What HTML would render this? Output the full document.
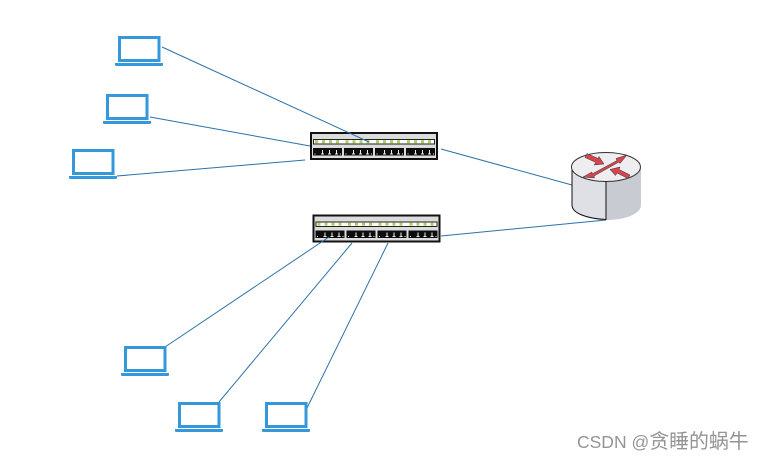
<!DOCTYPE html>
<html><head><meta charset="utf-8">
<style>
html,body{margin:0;padding:0;background:#fff;width:764px;height:461px;overflow:hidden}
svg{display:block}
text{font-family:"Liberation Sans","Noto Sans CJK SC",sans-serif}
</style></head><body>
<svg width="764" height="461" viewBox="0 0 764 461" xmlns="http://www.w3.org/2000/svg">
<defs>
<g id="lap">
<rect x="1.500" y="1.500" width="39.500" height="23" fill="#fff" stroke="#3498db" stroke-width="3"/>
<path d="M-3 27H45V29Q45 30 43 30H-1Q-3 30-3 29Z" fill="#3498db"/>
</g>
<g id="port"><rect x="0" y="0" width="29" height="7.500" fill="#0c0c0c"/>
<path d="M1.500 6h1M8 6h3M9.500 2v4M15 6h3M16.500 2v4M22 6h3M23.500 2v4M27 6h1" stroke="#eee" stroke-width="1" fill="none"/></g>
<g id="dots" fill="#a8d05a">
<rect x="0" y="-1.500" width="3" height="3"/><rect x="7" y="-1.500" width="3" height="3"/><rect x="14" y="-1.500" width="3" height="3"/><rect x="21" y="-1.500" width="3" height="3"/>
</g>
<g id="sw">
<rect x="1" y="1" width="126" height="26" fill="#dcdcdc" stroke="#111" stroke-width="2"/>
<rect x="3.500" y="7.500" width="121" height="4.500" fill="#fff" stroke="#222" stroke-width="1"/>
<use href="#dots" x="5" y="9.700"/><use href="#dots" x="35.500" y="9.700"/><use href="#dots" x="66" y="9.700"/><use href="#dots" x="97" y="9.700"/>
<use href="#port" x="3" y="16"/><use href="#port" x="34" y="16"/><use href="#port" x="65" y="16"/><use href="#port" x="96" y="16"/>
</g>
</defs>

<use href="#sw" x="310" y="132"/>
<use href="#sw" x="312.500" y="214.500"/>

<g stroke="#2d72a8" stroke-width="1" fill="none">
<path d="M162 47L369 142"/>
<path d="M150 117L310 146"/>
<path d="M117 176L305 160"/>
<path d="M441 149L572 185"/>
<path d="M441 236L606 220"/>
<path d="M165 347L329 237"/>
<path d="M219 402L352 243"/>
<path d="M307 408L388 243"/>
</g>

<use href="#lap" x="118" y="36"/>
<use href="#lap" x="106" y="94"/>
<use href="#lap" x="72" y="149"/>
<use href="#lap" x="124" y="346"/>
<use href="#lap" x="178" y="402"/>
<use href="#lap" x="265" y="402"/>

<path d="M572 167V205C572 214 588 220 606 220V167Z" fill="#dfe0e5"/>
<path d="M606 167V220C625 220 641 214 641 205V167Z" fill="#c9cbd3"/>
<path d="M572 167V205C572 213 586 218.500 606 219.500V186" fill="none" stroke="#111" stroke-width="1"/>
<ellipse cx="606" cy="167" rx="34.500" ry="14.500" fill="#eeeef1" stroke="#333" stroke-width="1"/>
<path d="M606 181V219.500" stroke="#111" stroke-width="1"/>
<g fill="#d9434e" stroke="#333" stroke-width=".5">
<path d="M585 157.500L587 153.500L598 158.500L599 156.500L604 164L594 165L596 162.500Z"/>
<path d="M610 169.500L620 167L619 169.500L630 175L628 178.500L617 173L615.500 175.500Z"/>
<path d="M583 177L592 172L592 174L617 160.500L616 158.500L627 155L620 163.500L619 162L594 176L594.500 178Z"/>
</g>

<text x="577" y="448" fill="#949494"><tspan font-size="17.500">CSDN @</tspan><tspan font-size="19.900">贪睡的蜗牛</tspan></text>
</svg>
</body></html>
